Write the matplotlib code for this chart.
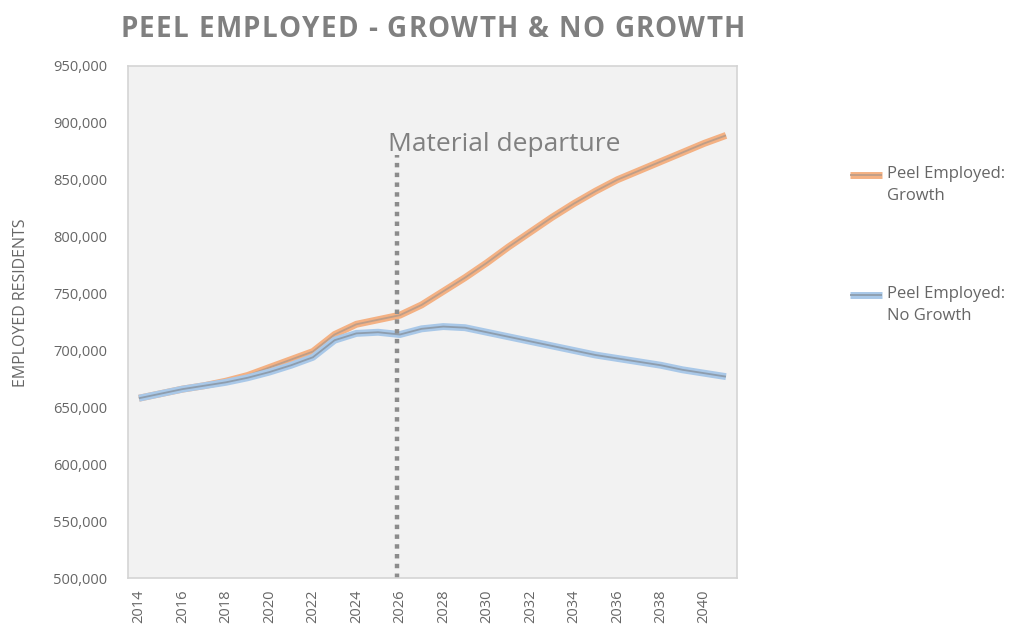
import numpy as np
import matplotlib.pyplot as plt
import matplotlib.patheffects as pe
from matplotlib.lines import Line2D
from matplotlib.ticker import FuncFormatter

plt.rcParams['font.family'] = ['Open Sans', 'DejaVu Sans']

years = np.arange(2014, 2042)

# employed residents, thousands
growth = [658, 662, 666, 669, 673, 678, 685, 692, 699, 714, 723, 727, 731, 740,
          752, 764, 777, 791, 804, 817, 829, 840, 850, 858, 866, 874, 882, 889]
no_growth = [658, 662, 666, 669, 672, 676, 681, 687, 694, 709, 715, 716, 714, 719,
             721, 720, 716, 712, 708, 704, 700, 696, 693, 690, 687, 683, 680, 677]

growth = np.array(growth) * 1000
no_growth = np.array(no_growth) * 1000

labels = ['Peel Employed:\nGrowth', 'Peel Employed:\nNo Growth']
colors = ['#F4B183', '#A9C8E8']
cores = ['#BE9E88', '#8E9DAD']

departure_year = 2026
departure_top = 872000

fig = plt.figure(figsize=(10.13, 6.34), dpi=100)
ax = fig.add_axes([0.1264, 0.0883, 0.601, 0.8076])
ax.set_facecolor('#F2F2F2')

def styled(color):
    return [pe.Stroke(linewidth=5, foreground=color), pe.Normal()]

for vals, c, core in zip([growth, no_growth], colors, cores):
    ax.plot(years, vals, color=core, lw=1.3, solid_capstyle='butt',
            path_effects=styled(c))

ax.vlines(departure_year - 0.15, 500000, departure_top, colors='#8C8C8C',
          linestyles=(0, (1, 1.2)), lw=3.2)
ax.text(2025.45, 881000, 'Material departure', fontsize=19, color='#808080',
        va='center', ha='left')

ax.set_xlim(2013.5, 2041.5)
ax.set_ylim(500000, 950000)
ax.set_xticks(np.arange(2014, 2041, 2))
ax.set_yticks(np.arange(500000, 950001, 50000))
ax.yaxis.set_major_formatter(FuncFormatter(lambda v, p: f'{int(v):,}'))
ax.tick_params(axis='x', rotation=90, length=0, labelsize=10.5, colors='#666666', pad=8)
ax.tick_params(axis='y', length=0, labelsize=10.5, colors='#666666', pad=15)

for s in ax.spines.values():
    s.set_color('#D4D4D4')
    s.set_linewidth(1.2)

ax.set_ylabel('EMPLOYED RESIDENTS', fontsize=11.5, color='#666666')
ax.yaxis.set_label_coords(-0.162, 0.538)

# title with letter spacing, placed one character at a time
title = 'PEEL EMPLOYED - GROWTH & NO GROWTH'
x0, x1, ty = 120 / 1013, 745 / 1013, 0.954
renderer = fig.canvas.get_renderer()
widths = []
for ch in title:
    t = fig.text(0, 0, ch.replace(' ', '\u00a0'), fontsize=20, fontweight='bold')
    widths.append(t.get_window_extent(renderer).width / fig.bbox.width)
    t.remove()
gap = (x1 - x0 - sum(widths)) / (len(title) - 1)
x = x0
for ch, w in zip(title, widths):
    if ch != ' ':
        fig.text(x, ty, ch, fontsize=20, fontweight='bold', color='#808080',
                 ha='left', va='center')
    x += w + gap

# legend, handle aligned with the first text line
for i, (lab, c, core) in enumerate(zip(labels, colors, cores)):
    ly = 1 - (175 + 120 * i) / 634
    fig.add_artist(Line2D([850 / 1013, 882 / 1013], [ly, ly], color=core, lw=1.3,
                          solid_capstyle='butt', path_effects=styled(c),
                          transform=fig.transFigure))
    fig.text(887 / 1013, ly + 9 / 634, lab, fontsize=12, color='#666666',
             ha='left', va='top', linespacing=1.5)

fig.savefig('out.png', dpi=100, facecolor='white')
